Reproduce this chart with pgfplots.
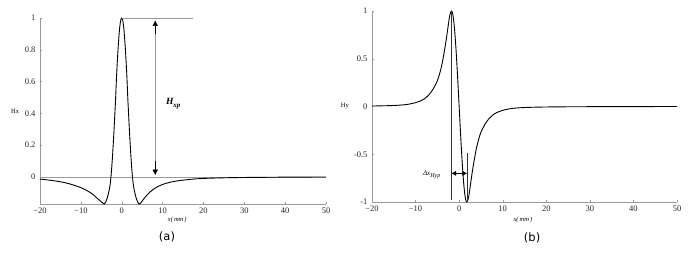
\documentclass[border=0pt]{standalone}
\usepackage{fontspec}
\setmainfont{Liberation Serif}
\newfontfamily\labsans{DejaVu Sans}
\usepackage{pgfplots}
\pgfplotsset{compat=1.18}
\usetikzlibrary{arrows.meta}
\pgfplotsset{
  common/.style={
    scale only axis,
    axis lines*=left,
    axis line style={gray!80, line width=0.5pt},
    tick style={gray!80, line width=0.4pt},
    major tick length=2pt,
    tick align=inside,
    clip=false,
    xmin=-20, xmax=50,
    xtick={-20,-10,...,50},
    xticklabels={−20,−10,0,10,20,30,40,50},
    /pgf/number format/assume math mode=true,
    ticklabel style={font=\fontsize{8.5}{9}\selectfont, text=black!85},
    xticklabel style={yshift=-0.5pt},
    yticklabel style={xshift=-1pt},
  }
}
\begin{document}
\begin{tikzpicture}
\path[use as bounding box] (0,0) rectangle (700pt,262pt);
% ---------------- (a)
\begin{axis}[common,
  at={(40pt,58pt)}, anchor=south west,
  width=286pt, height=186pt,
  ymin=-0.171, ymax=1,
  ytick={0,0.2,0.4,0.6,0.8,1},
  yticklabels={0,0.2,0.4,0.6,0.8,1},
]
\addplot[gray!80, line width=0.5pt] coordinates {(-20,0) (50,0)};
\addplot[black, line width=0.9pt, smooth, tension=0.5] coordinates {
(-20,-0.014)(-18,-0.02)(-16,-0.027)(-14,-0.036)(-12,-0.05)(-10,-0.068)(-9,-0.08)(-8,-0.094)(-7,-0.112)(-6,-0.135)(-5,-0.157)(-4.6,-0.166)(-4.3,-0.171)(-4,-0.163)(-3.5,-0.13)(-3,-0.075)(-2.75,-0.03)(-2.5,0.04)(-2.25,0.13)(-2,0.24)(-1.75,0.36)(-1.5,0.49)(-1.25,0.64)(-1,0.76)(-0.75,0.86)(-0.5,0.94)(-0.25,0.985)(0,1)(0.25,0.985)(0.5,0.94)(0.75,0.86)(1,0.76)(1.25,0.64)(1.5,0.49)(1.75,0.36)(2,0.24)(2.25,0.13)(2.5,0.04)(2.75,-0.03)(3,-0.075)(3.5,-0.13)(4,-0.163)(4.3,-0.171)(4.6,-0.166)(5,-0.152)(6,-0.12)(7,-0.094)(8,-0.074)(9,-0.059)(10,-0.048)(12,-0.033)(14,-0.024)(16,-0.018)(18,-0.013)(20,-0.01)(25,-0.006)(30,-0.004)(35,-0.003)(40,-0.002)(50,-0.001)};
\draw[gray!80, line width=0.6pt] (axis cs:0,1) -- (axis cs:17.5,1);
\draw[gray!80, line width=0.9pt] (axis cs:8.2,0.03) -- (axis cs:8.2,0.96);
\draw[black, -{Latex[length=5.5pt,width=5.5pt]}] (axis cs:8.2,0.9) -- (axis cs:8.2,0.985);
\draw[black, -{Latex[length=5.5pt,width=5.5pt]}] (axis cs:8.2,0.1) -- (axis cs:8.2,0.01);
\node[font=\fontsize{9.5}{10}\selectfont\bfseries\itshape] at (axis cs:12.6,0.46) {H\raisebox{-0.55ex}{\fontsize{7}{7}\selectfont xp}};
\node[font=\fontsize{6.5}{7}\selectfont] at (axis description cs:-0.087,0.5) {Hx};
\node[font=\fontsize{6.5}{7}\selectfont\itshape] at (axis description cs:0.48,-0.086) {x(\,mm\,)};
\node[font=\fontsize{11.5}{12}\selectfont\labsans] at (axis description cs:0.444,-0.177) {(a)};
\end{axis}
% ---------------- (b)
\begin{axis}[common,
  at={(372pt,60pt)}, anchor=south west,
  width=305pt, height=191pt,
  ymin=-1, ymax=1,
  ytick={-1,-0.5,0,0.5,1},
  yticklabels={-1,-0.5,0,0.5,1},
]
\addplot[black, line width=0.9pt, smooth, tension=0.5] coordinates {
(-20,0.005)(-16,0.009)(-14,0.013)(-12,0.021)(-10,0.04)(-9,0.056)(-8,0.08)(-7,0.12)(-6,0.18)(-5,0.27)(-4.5,0.34)(-4,0.43)(-3.5,0.55)(-3,0.69)(-2.5,0.85)(-2.25,0.93)(-2,0.98)(-1.75,1)(-1.5,0.975)(-1.25,0.9)(-1,0.78)(-0.75,0.62)(-0.5,0.43)(-0.25,0.22)(0,0)(0.25,-0.22)(0.5,-0.43)(0.75,-0.62)(1,-0.78)(1.25,-0.9)(1.5,-0.975)(1.75,-1)(2,-0.98)(2.25,-0.93)(2.5,-0.85)(3,-0.69)(3.5,-0.55)(4,-0.43)(4.5,-0.34)(5,-0.27)(6,-0.18)(7,-0.12)(8,-0.08)(9,-0.056)(10,-0.04)(12,-0.021)(14,-0.013)(16,-0.009)(20,-0.005)(25,-0.003)(30,-0.002)(40,-0.001)(50,0)};
\draw[black!80, line width=0.5pt] (axis cs:-1.75,1) -- (axis cs:-1.75,-0.98);
\draw[black!80, line width=0.5pt] (axis cs:1.8,-0.49) -- (axis cs:1.8,-1);
\draw[black, line width=0.5pt, {Latex[length=4.5pt,width=5pt]}-{Latex[length=4.5pt,width=5pt]}] (axis cs:-1.75,-0.70) -- (axis cs:1.8,-0.70);
\node[font=\fontsize{7}{8}\selectfont\itshape] at (axis cs:-6.3,-0.72) {Δx\raisebox{-0.6ex}{\fontsize{6}{7}\selectfont Hyp}};
\node[font=\fontsize{6.5}{7}\selectfont] at (axis description cs:-0.089,0.5) {Hy};
\node[font=\fontsize{6.5}{7}\selectfont\itshape] at (axis description cs:0.495,-0.094) {x(\,mm\,)};
\node[font=\fontsize{11.5}{12}\selectfont\labsans] at (axis description cs:0.525,-0.188) {(b)};
\end{axis}
\end{tikzpicture}
\end{document}
